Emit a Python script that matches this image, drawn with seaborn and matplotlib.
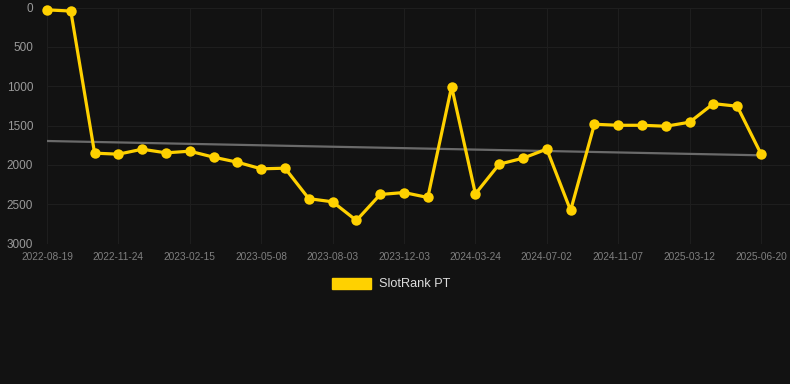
import numpy as np
import pandas as pd
import matplotlib
matplotlib.use("Agg")
import matplotlib.pyplot as plt
import seaborn as sns
from matplotlib.patches import Patch

tick_labels = ["2022-08-19", "2022-11-24", "2023-02-15", "2023-05-08", "2023-08-03",
               "2023-12-03", "2024-03-24", "2024-07-02", "2024-11-07", "2025-03-12",
               "2025-06-20"]
ranks = [30, 45, 1850, 1863, 1800, 1846, 1825, 1901, 1965, 2049, 2041,
         2428, 2468, 2705, 2375, 2350, 2413, 1005, 2367, 1990, 1914, 1798,
         2578, 1483, 1496, 1496, 1508, 1457, 1221, 1254, 1859]
series_name = "SlotRank PT"

BG = "#121212"
YELLOW = "#FFD100"

sns.set_theme(style="dark")
plt.rcParams['font.family'] = ['Liberation Sans', 'DejaVu Sans']

df = pd.DataFrame({"idx": np.arange(len(ranks)), "rank": ranks})

n = len(ranks)
step_px = (761 - 47) / (n - 1)
fig = plt.figure(figsize=(7.9, 3.84), dpi=100, facecolor=BG)
ax = fig.add_axes([47/790, 1-243.7/384, (790-47)/790, (243.7-7.5)/384])
ax.set_facecolor(BG)

# trend line (linear regression over the series)
coef = np.polyfit(df["idx"], df["rank"], 1)
trend = pd.DataFrame({"idx": [0, n-1]})
trend["rank"] = np.polyval(coef, trend["idx"])
sns.lineplot(data=trend, x="idx", y="rank", ax=ax, color="#6a6a6a", linewidth=1.6, zorder=2)

sns.lineplot(data=df, x="idx", y="rank", ax=ax, color=YELLOW, linewidth=2.3,
             marker="o", markersize=7.5, markeredgewidth=0, zorder=3, clip_on=False)

ax.set_xlim(0, (790 - 47) / step_px)
ax.set_ylim(3000, 0)
ax.set_yticks([0, 500, 1000, 1500, 2000, 2500, 3000])
ax.set_xticks(np.arange(0, n, 3))
ax.set_xticklabels(tick_labels)
ax.tick_params(axis="x", colors="#7f7f7f", labelsize=7.3, length=0, pad=6)
ax.tick_params(axis="y", colors="#9a9a9a", labelsize=8.5, length=0, pad=10)
ax.grid(True, color="#1e1e1e", linewidth=0.8)
for s in ax.spines.values():
    s.set_visible(False)
ax.set_xlabel("")
ax.set_ylabel("")

handle = Patch(facecolor=YELLOW, edgecolor=YELLOW)
leg = fig.legend([handle], [series_name], loc="center", bbox_to_anchor=(391/790, 1-284/384),
                 frameon=False, handlelength=3.1, handleheight=0.95, handletextpad=0.6,
                 fontsize=9.2)
for t in leg.get_texts():
    t.set_color("#dddddd")

fig.savefig("out.png", dpi=100, facecolor=BG)
